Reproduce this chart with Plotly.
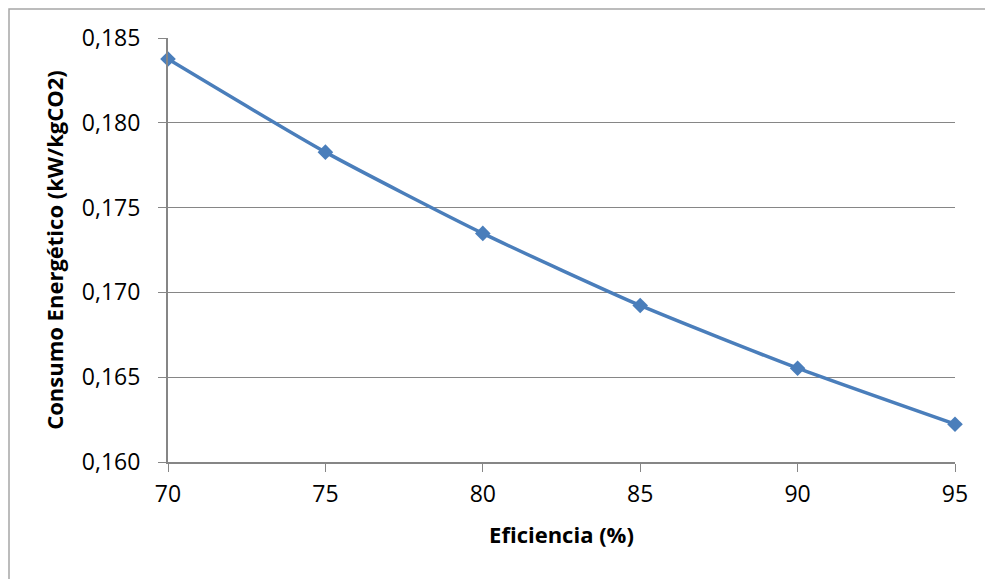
import plotly.graph_objects as go

eficiencia = [70, 75, 80, 85, 90, 95]
consumo = [0.18376, 0.17827, 0.17348, 0.16923, 0.16553, 0.16223]
x_ticks = [70, 75, 80, 85, 90, 95]
y_ticks = [0.160, 0.165, 0.170, 0.175, 0.180, 0.185]

W, H = 985, 579
L, R, T, B = 168, 30, 38, 117
pw, ph = W - L - R, H - T - B

fig = go.Figure()
fig.add_trace(go.Scatter(
    x=eficiencia, y=consumo, mode="lines+markers",
    line=dict(color="#4a7ebb", width=3.5, shape="spline", smoothing=0.6),
    marker=dict(symbol="diamond", size=12, color="#4a7ebb"),
    showlegend=False, cliponaxis=False,
))

font_family = "Open Sans, Liberation Sans, sans-serif"

fig.update_layout(
    width=W, height=H,
    margin=dict(l=L, r=R, t=T, b=B),
    paper_bgcolor="white", plot_bgcolor="white",
    separators=",.",
    font=dict(family=font_family, color="black", size=23),
    xaxis=dict(
        range=[70, 95], tickvals=x_ticks, ticktext=[str(v) for v in x_ticks],
        showgrid=False, zeroline=False,
        showline=True, linecolor="#868686", linewidth=2,
        ticks="outside", ticklen=8, tickcolor="#868686", tickwidth=1,
        tickfont=dict(size=23), ticklabelstandoff=2,
        title=dict(text="<b>Eficiencia (%)</b>", font=dict(size=22), standoff=20),
    ),
    yaxis=dict(
        range=[0.160, 0.185], tickvals=y_ticks,
        tickformat=".3f",
        showgrid=True, gridcolor="#868686", gridwidth=1,
        zeroline=False,
        showline=True, linecolor="#868686", linewidth=2,
        ticks="outside", ticklen=8, tickcolor="#868686", tickwidth=1,
        tickfont=dict(size=23), ticklabelstandoff=13,
        title=dict(text="<b>Consumo Energético (kW/kgCO2)</b>", font=dict(size=22), standoff=12),
    ),
    shapes=[dict(
        type="rect", xref="paper", yref="paper",
        x0=(9 - L) / pw, x1=(W + 20 - L) / pw,
        y0=(H - B - (H + 20)) / ph, y1=(H - B - 9) / ph,
        line=dict(color="#a6a6a6", width=1.5), fillcolor="rgba(0,0,0,0)",
        layer="below",
    )],
)

fig.write_html("out.html")
